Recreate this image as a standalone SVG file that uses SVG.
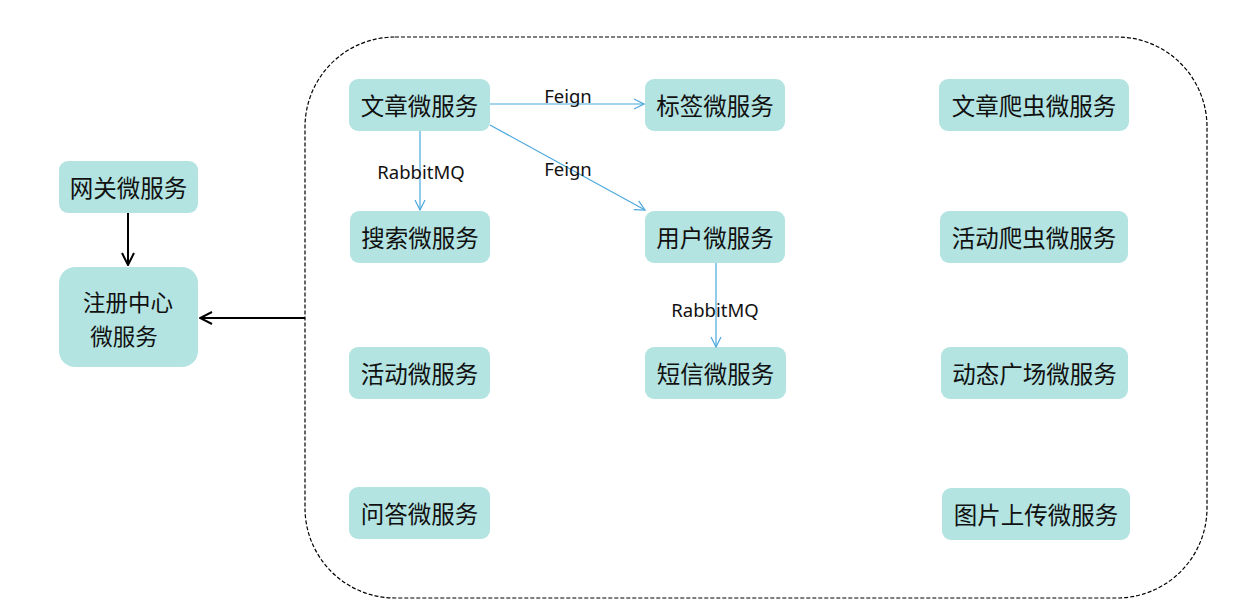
<svg xmlns="http://www.w3.org/2000/svg" width="1238" height="613" viewBox="0 0 1238 613">
<defs>
<style>
.n rect{fill:#b3e4e1;}
.n text{font-family:"Noto Sans CJK SC","Noto Sans",sans-serif;font-size:23.5px;fill:#111;text-anchor:middle;dominant-baseline:central;}
.n text.r{font-size:22.5px;}
.lbl{font-family:"Noto Sans","Noto Sans CJK SC",sans-serif;font-size:18.5px;fill:#111;text-anchor:middle;dominant-baseline:central;}
.b{stroke:#4aa8dc;stroke-width:1.2;fill:none;marker-end:url(#ab);}
.k{stroke:#000;stroke-width:2;fill:none;marker-end:url(#ak);}
</style>
<marker id="ab" viewBox="0 0 12 12" refX="11" refY="6" markerWidth="12" markerHeight="12" markerUnits="userSpaceOnUse" orient="auto"><path d="M1,1 L11,6 L1,11" fill="none" stroke="#4aa8dc" stroke-width="1.2"/></marker>
<marker id="ak" viewBox="0 0 14 14" refX="13" refY="7" markerWidth="14" markerHeight="14" markerUnits="userSpaceOnUse" orient="auto"><path d="M1,1 L13,7 L1,13" fill="none" stroke="#000" stroke-width="2"/></marker>
</defs>
<rect width="1238" height="613" fill="#fff"/>
<g id="container"><rect x="305" y="37" width="902" height="561" rx="90" ry="90" fill="none" stroke="#000" stroke-width="1.2" stroke-dasharray="4,2"/></g>
<g id="n-gateway" class="n"><rect x="59" y="161" width="139" height="52" rx="9"/><text x="128.5" y="187">网关微服务</text></g>
<g id="n-registry" class="n"><rect x="59" y="267" width="139" height="100" rx="16"/><text class="r" x="128" y="301">注册中心</text><text class="r" x="124" y="335">微服务</text></g>
<g id="n-article" class="n"><rect x="349" y="79" width="141" height="52" rx="9"/><text x="419.5" y="105">文章微服务</text></g>
<g id="n-tag" class="n"><rect x="645" y="79" width="140" height="52" rx="9"/><text x="715" y="105">标签微服务</text></g>
<g id="n-search" class="n"><rect x="350" y="211" width="140" height="52" rx="9"/><text x="420" y="237">搜索微服务</text></g>
<g id="n-user" class="n"><rect x="645" y="211" width="140" height="52" rx="9"/><text x="715" y="237">用户微服务</text></g>
<g id="n-activity" class="n"><rect x="349" y="347" width="141" height="52" rx="9"/><text x="419.5" y="373">活动微服务</text></g>
<g id="n-sms" class="n"><rect x="645" y="347" width="141" height="52" rx="9"/><text x="715.5" y="373">短信微服务</text></g>
<g id="n-qa" class="n"><rect x="349" y="487" width="141" height="52" rx="9"/><text x="419.5" y="513">问答微服务</text></g>
<g id="n-article-crawler" class="n"><rect x="939" y="79" width="190" height="52" rx="9"/><text x="1034" y="105">文章爬虫微服务</text></g>
<g id="n-activity-crawler" class="n"><rect x="940" y="211" width="188" height="52" rx="9"/><text x="1034" y="237">活动爬虫微服务</text></g>
<g id="n-square" class="n"><rect x="941" y="347" width="187" height="52" rx="9"/><text x="1034.5" y="373">动态广场微服务</text></g>
<g id="n-upload" class="n"><rect x="942" y="488" width="188" height="52" rx="9"/><text x="1036" y="514">图片上传微服务</text></g>
<g id="connectors">
<line class="b" x1="490" y1="104" x2="644" y2="104"/>
<text class="lbl" x="568" y="95">Feign</text>
<line class="b" x1="420" y1="131" x2="420" y2="210"/>
<text class="lbl" x="421" y="171">RabbitMQ</text>
<line class="b" x1="490" y1="125" x2="645" y2="210"/>
<text class="lbl" x="568" y="168">Feign</text>
<line class="b" x1="716" y1="263" x2="716" y2="347"/>
<text class="lbl" x="715" y="309">RabbitMQ</text>
<line class="k" x1="128" y1="213" x2="128" y2="265"/>
<line class="k" x1="305" y1="318" x2="200" y2="318"/>
</g>
</svg>
